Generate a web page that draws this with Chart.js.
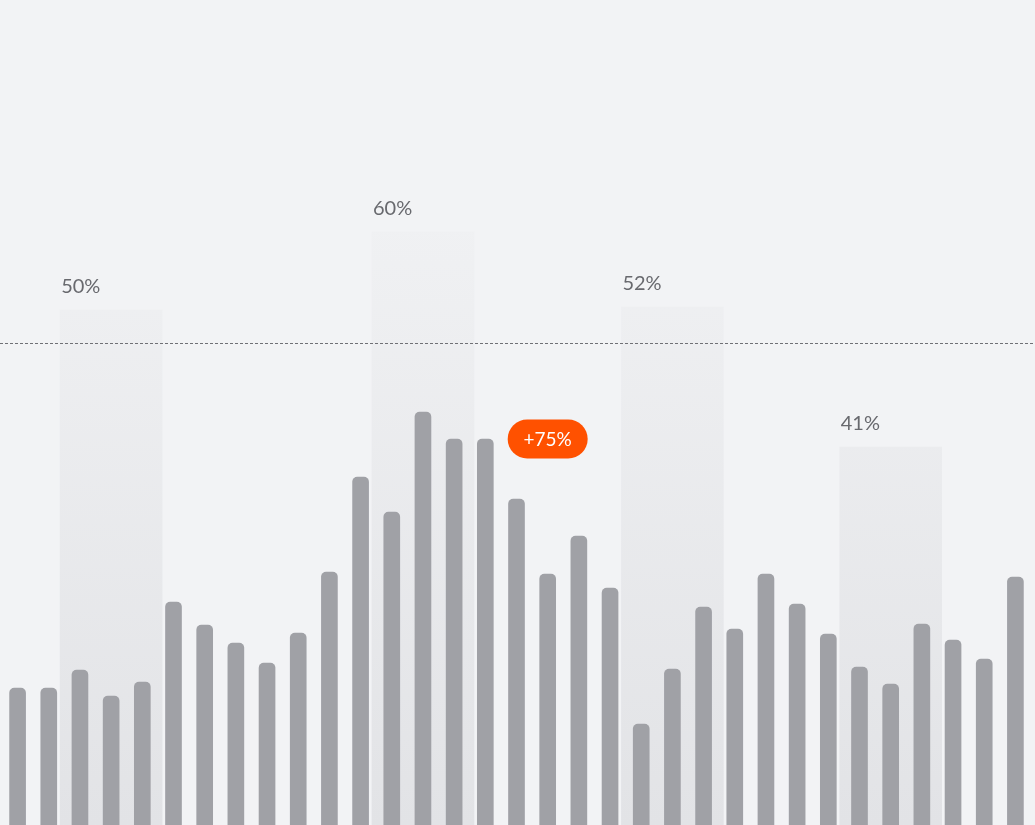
<!DOCTYPE html>
<html>
<head>
<meta charset="utf-8">
<script src="https://cdn.jsdelivr.net/npm/chart.js@4"></script>
<style>
  html, body { margin: 0; padding: 0; background: #f2f3f5; }
  canvas { display: block; }
</style>
</head>
<body>
<canvas id="chart" width="1035" height="825"></canvas>
<script>
// one value per bar
const categories = Array.from({ length: 33 }, (_, i) => "W" + (i + 1));
const barValues = [
  137, 137, 155, 129, 143, 223, 200, 182, 162, 192, 253,
  348, 313, 413, 386, 386, 326, 251, 289, 237, 101, 156,
  218, 196, 251, 221, 191, 158, 141, 201, 185, 166, 248,
];

// highlighted periods: which bar they centre on, how tall, what label
const highlightIndex = [3, 13, 21, 28];
const highlightValues = [515, 593, 518, 378];
const highlightLabels = ["50%", "60%", "52%", "41%"];

const targetValue = 482;
const badgeIndex = 17;
const badgeValue = 386;
const badgeText = "+75%";

const highlightData = categories.map(() => null);
highlightIndex.forEach((idx, i) => (highlightData[idx] = highlightValues[i]));

const extras = {
  id: "extras",
  afterDatasetsDraw(chart) {
    const { ctx, scales: { x, y } } = chart;

    // dotted target line
    const ly = Math.round(y.getPixelForValue(targetValue)) + 0.5;
    ctx.save();
    ctx.strokeStyle = "#6f7075";
    ctx.lineWidth = 1.2;
    ctx.setLineDash([3, 2]);
    ctx.beginPath();
    ctx.moveTo(0, ly);
    ctx.lineTo(chart.width, ly);
    ctx.stroke();
    ctx.restore();

    // percentage labels over the highlight columns
    const meta = chart.getDatasetMeta(0);
    ctx.save();
    ctx.font = "20px Lato";
    ctx.fillStyle = "#68696e";
    ctx.textBaseline = "alphabetic";
    ctx.textAlign = "left";
    highlightIndex.forEach((idx, i) => {
      const el = meta.data[idx];
      ctx.fillText(highlightLabels[i], el.x - el.width / 2 + 1, el.y - 17);
    });
    ctx.restore();

    // orange badge
    const bx = x.getPixelForValue(badgeIndex);
    const by = y.getPixelForValue(badgeValue);
    const w = 80, h = 39;
    ctx.save();
    ctx.fillStyle = "#ff5100";
    ctx.beginPath();
    ctx.roundRect(bx - w / 2, by - h / 2, w, h, h / 2);
    ctx.fill();
    ctx.fillStyle = "#ffffff";
    ctx.font = "19px Lato";
    ctx.textAlign = "center";
    ctx.textBaseline = "middle";
    ctx.fillText(badgeText, bx, by + 1);
    ctx.restore();
  },
};

const chart = new Chart(document.getElementById("chart"), {
  type: "bar",
  data: {
    labels: categories,
    datasets: [
      {
        data: highlightData,
        order: 2,
        grouped: false,
        barThickness: 102,
        borderRadius: 0,
        backgroundColor(context) {
          const area = context.chart.chartArea;
          if (!area) return "#e9eaed";
          const g = context.chart.ctx.createLinearGradient(0, 220, 0, area.bottom);
          g.addColorStop(0, "#f0f1f3");
          g.addColorStop(1, "#e2e3e6");
          return g;
        },
      },
      {
        data: barValues,
        order: 1,
        grouped: false,
        barThickness: 16,
        borderRadius: 5,
        backgroundColor: "#a0a1a6",
      },
    ],
  },
  options: {
    responsive: false,
    animation: false,
    events: [],
    layout: { padding: { left: 2, right: 4, top: 0, bottom: 0 } },
    plugins: { legend: { display: false }, tooltip: { enabled: false } },
    scales: {
      x: { display: false, offset: true, grid: { display: false } },
      y: { display: false, min: 0, max: 825 },
    },
  },
  plugins: [extras],
});
</script>
</body>
</html>
